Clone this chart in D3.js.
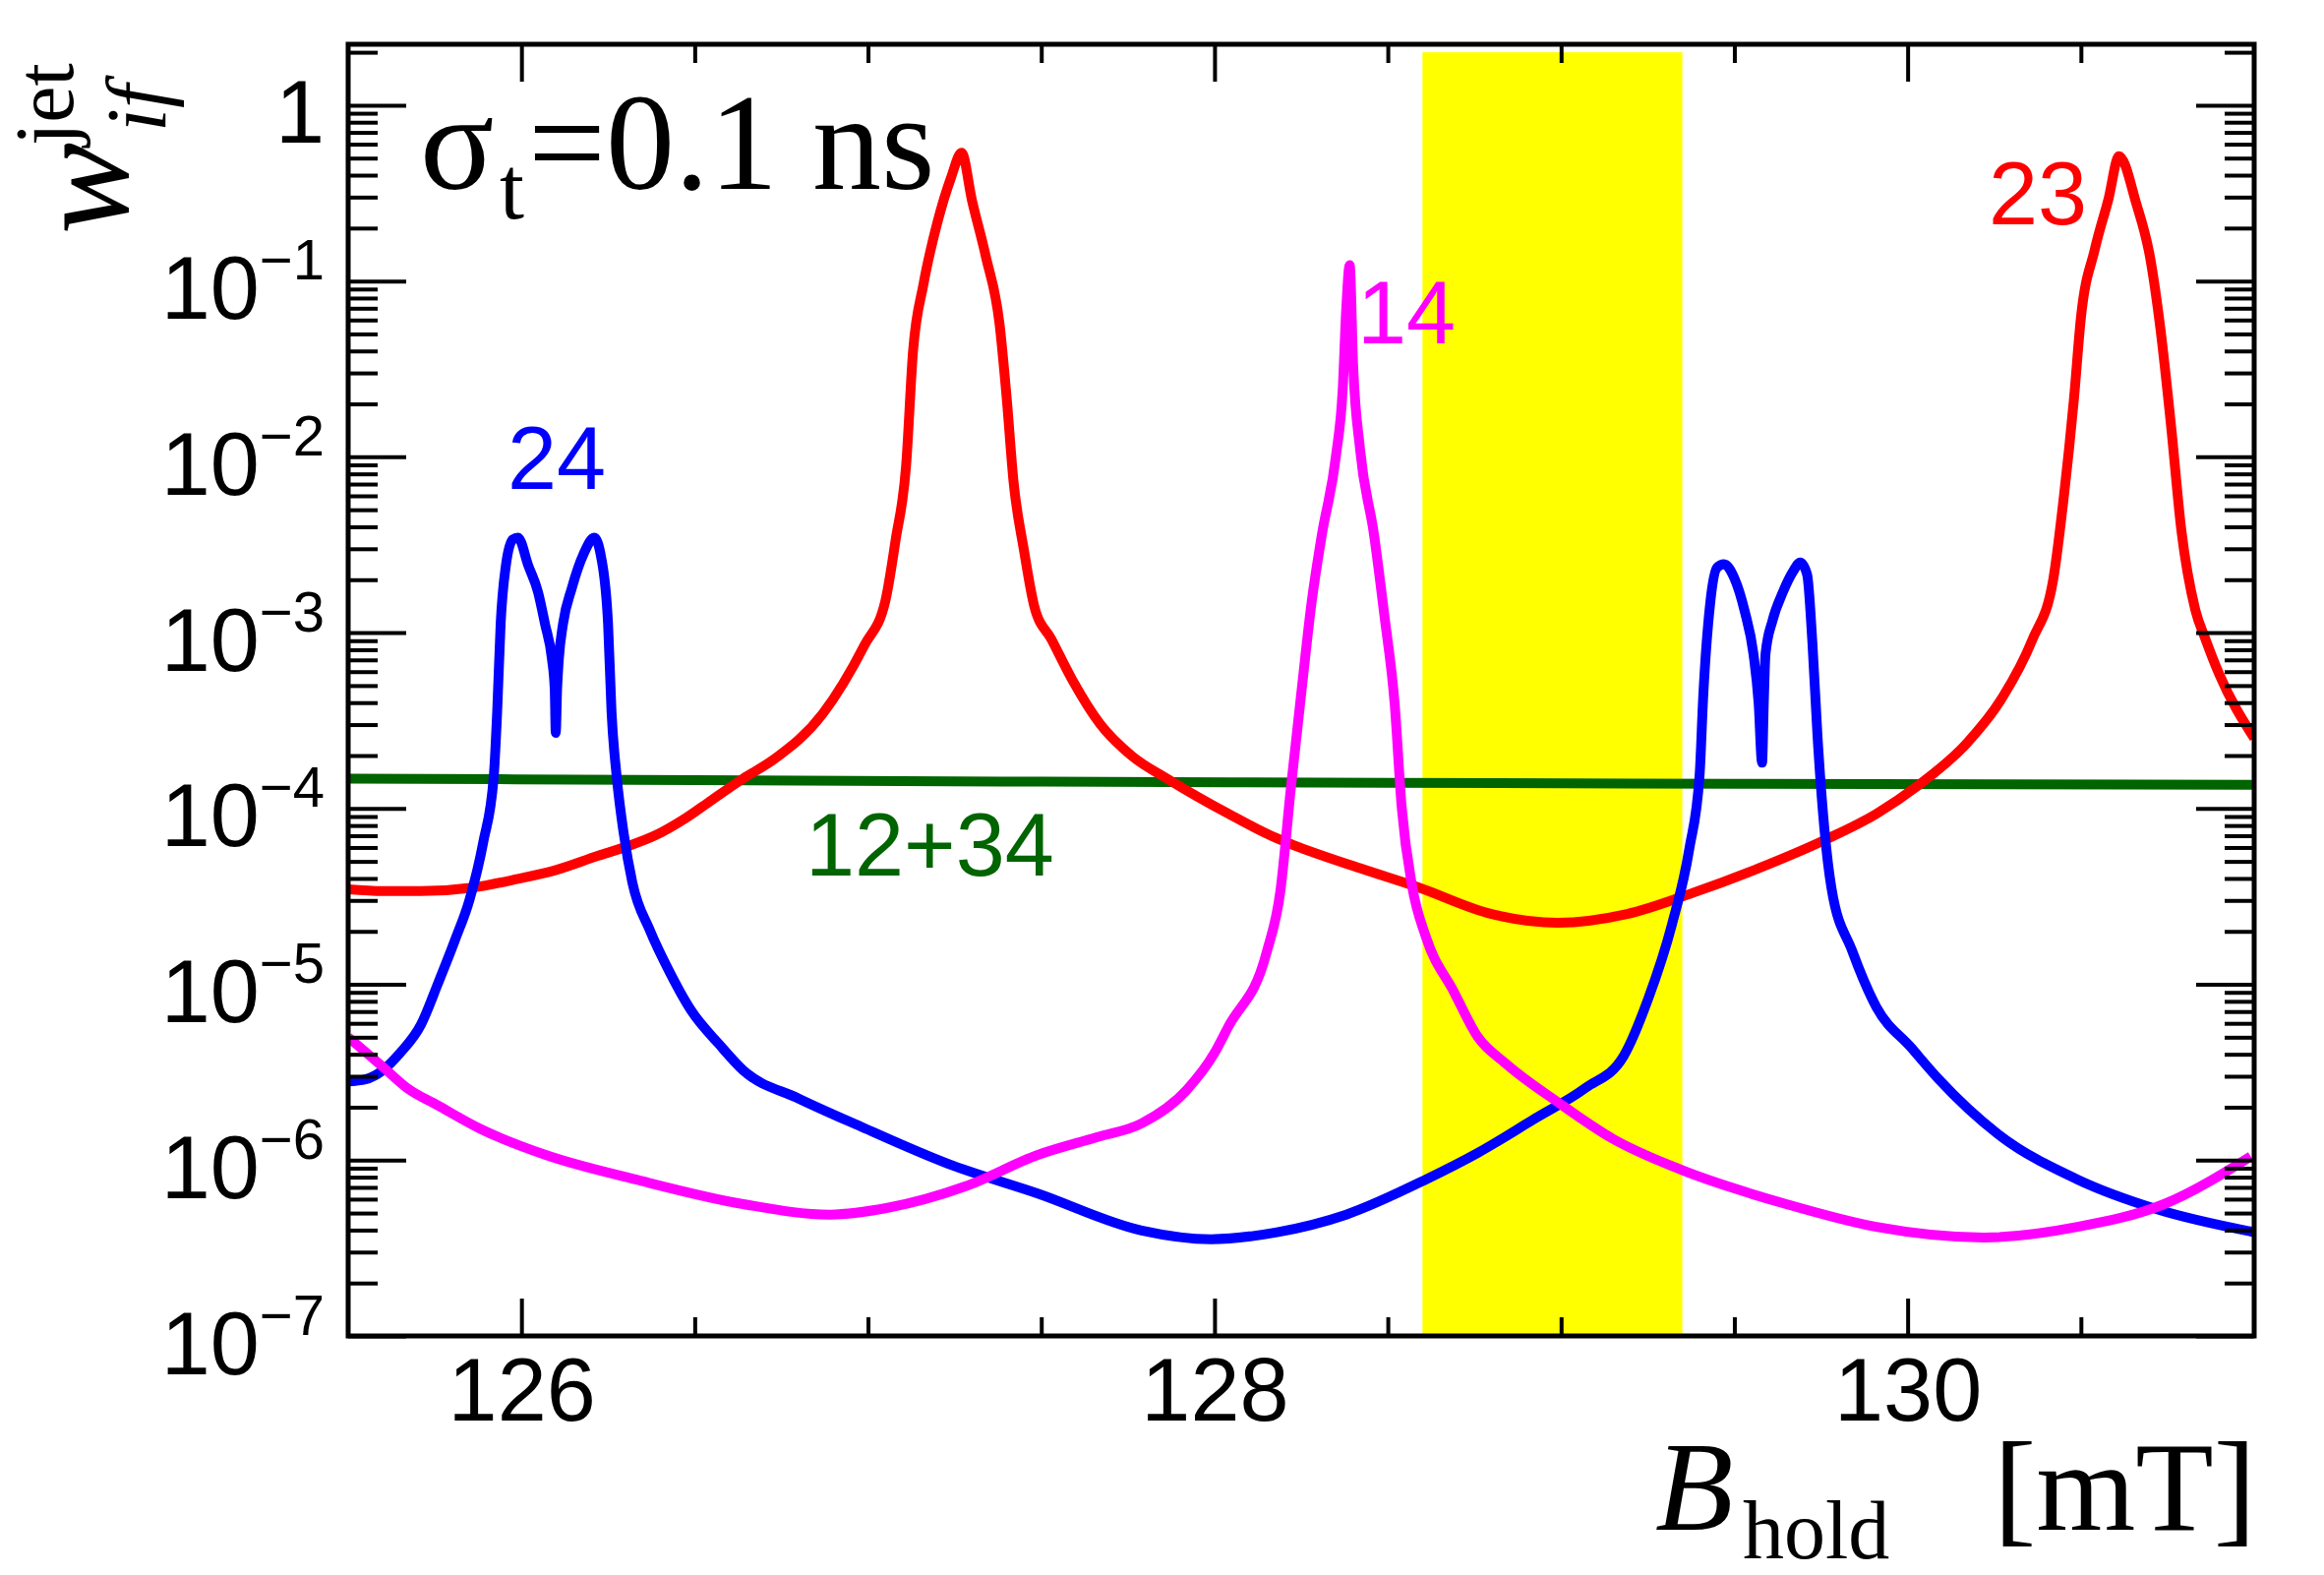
<!DOCTYPE html>
<html>
<head>
<meta charset="utf-8">
<script src="https://cdn.jsdelivr.net/npm/d3@7"></script>
<style>
  body { margin: 0; background: #fff; }
  svg { display: block; background: #fff; }
</style>
</head>
<body>
<svg width="2363" height="1601"></svg>
<script>
// values: [B_hold (mT), w_if^jet]
var curve23 = [
    [125.50, 3.47e-5], [125.60, 3.39e-5], [125.71, 3.39e-5], [125.86, 3.55e-5], [125.99, 3.98e-5],
    [126.10, 4.47e-5], [126.22, 5.37e-5], [126.30, 6.03e-5], [126.39, 7.08e-5], [126.47, 8.71e-5],
    [126.55, 1.12e-4], [126.64, 1.48e-4], [126.73, 1.91e-4], [126.87, 3.47e-4], [126.99, 8.5e-4],
    [127.05, 1.51e-3], [127.08, 3.39e-3], [127.11, 8.91e-3], [127.13, 3.98e-2], [127.16, 9.55e-2],
    [127.20, 0.214], [127.24, 0.389], [127.27, 0.537], [127.30, 0.288], [127.34, 0.138],
    [127.38, 0.0562], [127.40, 0.0219], [127.42, 7.24e-3], [127.45, 2.95e-3], [127.48, 1.41e-3],
    [127.53, 9.12e-4], [127.59, 5.37e-4], [127.67, 3.02e-4], [127.76, 2.00e-4], [127.87, 1.45e-4],
    [128.04, 9.33e-5], [128.18, 6.76e-5], [128.23, 6.17e-5], [128.42, 4.57e-5], [128.59, 3.55e-5],
    [128.80, 2.51e-5], [128.99, 2.24e-5], [129.19, 2.51e-5], [129.38, 3.31e-5], [129.57, 4.57e-5],
    [129.76, 6.61e-5], [129.91, 9.33e-5], [130.03, 1.35e-4], [130.17, 2.34e-4], [130.27, 4.17e-4],
    [130.36, 9.12e-4], [130.42, 2.00e-3], [130.45, 5.75e-3], [130.48, 0.0214], [130.50, 0.0617],
    [130.54, 0.151], [130.58, 0.295], [130.61, 0.513], [130.66, 0.275], [130.70, 0.135],
    [130.73, 0.0525], [130.76, 0.0151], [130.79, 3.80e-3], [130.83, 1.35e-3], [130.86, 9.12e-4],
    [130.90, 5.75e-4], [131.00, 2.51e-4]
];

var curve24 = [
    [125.50, 2.8e-6], [125.55, 2.88e-6], [125.60, 3.24e-6], [125.65, 4.07e-6], [125.71, 5.89e-6],
    [125.76, 1.02e-5], [125.81, 1.82e-5], [125.85, 3.02e-5], [125.89, 6.46e-5], [125.92, 1.51e-4],
    [125.93, 3.55e-4], [125.94, 1.12e-3], [125.955, 2.40e-3], [125.975, 3.39e-3], [125.99, 3.47e-3],
    [126.02, 2.40e-3], [126.048, 1.70e-3], [126.068, 1.12e-3], [126.088, 7.08e-4], [126.096, 4.79e-4],
    [126.099, 2.69e-4], [126.103, 4.79e-4], [126.108, 7.08e-4], [126.12, 1.12e-3], [126.145, 1.78e-3],
    [126.18, 2.82e-3], [126.21, 3.47e-3], [126.23, 2.69e-3], [126.25, 1.12e-3], [126.26, 3.55e-4],
    [126.275, 1.51e-4], [126.295, 7.24e-5], [126.32, 3.80e-5], [126.37, 2.04e-5], [126.43, 1.15e-5],
    [126.49, 7.08e-6], [126.57, 4.57e-6], [126.64, 3.24e-6], [126.80, 2.24e-6], [126.98, 1.55e-6],
    [127.23, 9.55e-7], [127.49, 6.46e-7], [127.79, 3.98e-7], [127.99, 3.55e-7], [128.18, 3.89e-7],
    [128.38, 4.90e-7], [128.61, 7.76e-7], [128.76, 1.10e-6], [128.92, 1.70e-6], [129.07, 2.57e-6],
    [129.18, 3.89e-6], [129.25, 8.13e-6], [129.32, 2.19e-5], [129.37, 5.89e-5], [129.40, 1.58e-4],
    [129.41, 4.27e-4], [129.43, 1.45e-3], [129.45, 2.34e-3], [129.47, 2.45e-3], [129.50, 2.04e-3],
    [129.53, 1.32e-3], [129.555, 7.59e-4], [129.57, 3.98e-4], [129.58, 1.82e-4], [129.585, 3.98e-4],
    [129.59, 7.59e-4], [129.61, 1.17e-3], [129.64, 1.70e-3], [129.67, 2.24e-3], [129.69, 2.51e-3],
    [129.71, 2.14e-3], [129.725, 8.91e-4], [129.74, 2.57e-4], [129.76, 7.59e-5], [129.78, 3.55e-5],
    [129.84, 1.55e-5], [129.91, 7.41e-6], [130.01, 4.37e-6], [130.09, 2.88e-6], [130.26, 1.41e-6],
    [130.49, 7.76e-7], [130.72, 5.25e-7], [131.00, 3.89e-7]
];

var curve14 = [
    [125.50, 5.01e-6], [125.60, 3.39e-6], [125.67, 2.57e-6], [125.76, 2.04e-6], [125.88, 1.51e-6],
    [126.07, 1.07e-6], [126.33, 7.76e-7], [126.64, 5.62e-7], [126.89, 4.90e-7], [127.06, 5.37e-7],
    [127.28, 7.08e-7], [127.49, 1.07e-6], [127.66, 1.35e-6], [127.79, 1.62e-6], [127.92, 2.51e-6],
    [128.00, 4.07e-6], [128.04, 5.75e-6], [128.15, 1.51e-5], [128.19, 3.39e-5], [128.22, 1.29e-4],
    [128.25, 4.47e-4], [128.28, 1.48e-3], [128.31, 3.63e-3], [128.35, 1.0e-2], [128.37, 0.0245],
    [128.38, 0.0692], [128.39, 0.123], [128.40, 0.0331], [128.42, 0.0110], [128.46, 3.63e-3],
    [128.49, 1.26e-3], [128.52, 3.89e-4], [128.54, 1.02e-4], [128.57, 3.63e-5], [128.61, 1.86e-5],
    [128.69, 9.12e-6], [128.76, 5.01e-6], [128.84, 3.55e-6], [128.99, 2.14e-6], [129.15, 1.32e-6],
    [129.34, 8.91e-7], [129.65, 5.62e-7], [129.91, 4.17e-7], [130.22, 3.63e-7], [130.49, 4.17e-7],
    [130.74, 5.62e-7], [130.99, 1.05e-6]
];

var curve1234 = [
    [125.5, 1.48e-4], [126.5, 1.45e-4], [127.5, 1.42e-4], [128.5, 1.40e-4], [129.5, 1.38e-4], [131.0, 1.365e-4]
];

var bandRange = [128.6, 129.35];
var bandTop = 2.0;
var xMajor = [126, 128, 130];
var yMajor = [1e-7, 1e-6, 1e-5, 1e-4, 1e-3, 1e-2, 1e-1, 1];
var curveNames = ['23', '24', '14', '12+34'];

var svg = d3.select('svg');
var width = +svg.attr('width');
var height = +svg.attr('height');

var sans = 'Liberation Sans, Arial, Helvetica, sans-serif';
var serif = 'Liberation Serif, Times New Roman, Times, serif';

var frame = {left: 354, right: 2292, top: 45, bottom: 1358};

var x = d3.scaleLinear().domain([125.5, 131]).range([frame.left, frame.right]);
var y = d3.scaleLog().domain([1e-7, 2.22]).range([frame.bottom, frame.top]);

svg.append('rect').attr('width', width).attr('height', height).attr('fill', 'white');

svg.append('defs').append('clipPath').attr('id', 'plot-clip')
    .append('rect')
    .attr('x', frame.left).attr('y', frame.top)
    .attr('width', frame.right - frame.left).attr('height', frame.bottom - frame.top);

// yellow band
svg.append('rect')
    .attr('x', x(bandRange[0])).attr('y', y(bandTop))
    .attr('width', x(bandRange[1]) - x(bandRange[0]))
    .attr('height', frame.bottom - y(bandTop))
    .attr('fill', '#ffff00');

// curves
var line = d3.line().x(d => x(d[0])).y(d => y(d[1])).curve(d3.curveMonotoneX);
var plot = svg.append('g').attr('clip-path', 'url(#plot-clip)');

var series = [
    {data: curve1234, color: '#006400'},
    {data: curve23, color: '#ff0000'},
    {data: curve24, color: '#0000ff'},
    {data: curve14, color: '#ff00ff'}
];
series.forEach(s => {
    plot.append('path').datum(s.data)
        .attr('d', line)
        .attr('fill', 'none')
        .attr('stroke', s.color)
        .attr('stroke-width', 10)
        .attr('stroke-linejoin', 'round');
});

// axes (ticks point inwards, ROOT style)
function styleAxis(g) {
    g.select('.domain').remove();
    g.selectAll('.tick line').attr('stroke', '#000').attr('stroke-width', 4);
}

var xMinor = d3.range(125.5, 131.01, 0.5).filter(v => v > 125.5 && v < 131 && xMajor.indexOf(v) < 0);

var xAxis = svg.append('g').attr('transform', 'translate(0,' + frame.bottom + ')')
    .call(d3.axisBottom(x).tickValues(xMajor).tickSize(-38).tickSizeOuter(0).tickPadding(22).tickFormat(d3.format('d')))
    .call(styleAxis);
xAxis.attr('font-family', sans).attr('font-size', 90);
xAxis.selectAll('.tick text').attr('fill', '#000');

svg.append('g').attr('transform', 'translate(0,' + frame.bottom + ')')
    .call(d3.axisBottom(x).tickValues(xMinor).tickSize(-19).tickSizeOuter(0).tickFormat(''))
    .call(styleAxis);
svg.append('g').attr('transform', 'translate(0,' + frame.top + ')')
    .call(d3.axisTop(x).tickValues(xMajor).tickSize(-38).tickSizeOuter(0).tickFormat(''))
    .call(styleAxis);
svg.append('g').attr('transform', 'translate(0,' + frame.top + ')')
    .call(d3.axisTop(x).tickValues(xMinor).tickSize(-19).tickSizeOuter(0).tickFormat(''))
    .call(styleAxis);

var yMinor = [];
d3.range(-7, 1).forEach(n => {
    for (var k = 2; k <= 9; k++) {
        var v = k * Math.pow(10, n);
        if (v <= 2.22) yMinor.push(v);
    }
});

var yAxis = svg.append('g').attr('transform', 'translate(' + frame.left + ',0)')
    .call(d3.axisLeft(y).tickValues(yMajor).tickSize(-59).tickSizeOuter(0).tickPadding(24).tickFormat(''))
    .call(styleAxis);
yAxis.attr('font-family', sans).attr('font-size', 90);
yAxis.selectAll('.tick text')
    .attr('fill', '#000')
    .attr('dy', 38)
    .each(function (d) {
        var t = d3.select(this);
        var e = Math.round(Math.log10(d));
        if (e === 0) {
            t.text('1');
            return;
        }
        t.append('tspan').text('10');
        t.append('tspan').attr('dy', -40).attr('font-size', 58).text('\u2212' + (-e));
    });

svg.append('g').attr('transform', 'translate(' + frame.left + ',0)')
    .call(d3.axisLeft(y).tickValues(yMinor).tickSize(-30).tickSizeOuter(0).tickFormat(''))
    .call(styleAxis);
svg.append('g').attr('transform', 'translate(' + frame.right + ',0)')
    .call(d3.axisRight(y).tickValues(yMajor).tickSize(-59).tickSizeOuter(0).tickFormat(''))
    .call(styleAxis);
svg.append('g').attr('transform', 'translate(' + frame.right + ',0)')
    .call(d3.axisRight(y).tickValues(yMinor).tickSize(-30).tickSizeOuter(0).tickFormat(''))
    .call(styleAxis);

// frame
svg.append('rect')
    .attr('x', frame.left).attr('y', frame.top)
    .attr('width', frame.right - frame.left).attr('height', frame.bottom - frame.top)
    .attr('fill', 'none').attr('stroke', '#000').attr('stroke-width', 5);

// axis titles
var xt = svg.append('g').attr('font-family', serif).attr('fill', '#000');
xt.append('text').attr('x', 1683).attr('y', 1555).attr('font-size', 130).attr('font-style', 'italic').text('B');
xt.append('text').attr('x', 1772).attr('y', 1584).attr('font-size', 84).text('hold');
xt.append('text').attr('x', 2294).attr('y', 1555).attr('font-size', 130).attr('text-anchor', 'end').text('[mT]');

var yt = svg.append('g').attr('font-family', serif).attr('fill', '#000')
    .attr('transform', 'translate(130,238) rotate(-90)');
yt.append('text').attr('x', 0).attr('y', 0).attr('font-size', 140).attr('font-style', 'italic').text('w');
yt.append('text').attr('x', 90).attr('y', -56).attr('font-size', 84).text('jet');
yt.append('text').attr('x', 104).attr('y', 38).attr('font-size', 86).attr('font-style', 'italic').text('if');

// resolution note
var note = svg.append('g').attr('font-family', serif).attr('fill', '#000');
note.append('text').attr('x', 427).attr('y', 192).attr('font-size', 140).text('\u03c3');
note.append('text').attr('x', 508).attr('y', 222).attr('font-size', 90).text('t');
note.append('text').attr('x', 537).attr('y', 192).attr('font-size', 140).text('=0.1 ns');

// curve labels
var labels = [
    {text: curveNames[0], color: '#ff0000', x: 2022, y: 228},
    {text: curveNames[1], color: '#0000ff', x: 516, y: 497},
    {text: curveNames[2], color: '#ff00ff', x: 1380, y: 349},
    {text: curveNames[3], color: '#006400', x: 819, y: 890}
];
svg.append('g').attr('font-family', sans).attr('font-size', 90)
    .selectAll('text').data(labels).enter()
    .append('text')
    .attr('x', d => d.x).attr('y', d => d.y)
    .attr('fill', d => d.color)
    .text(d => d.text);
</script>
</body>
</html>
